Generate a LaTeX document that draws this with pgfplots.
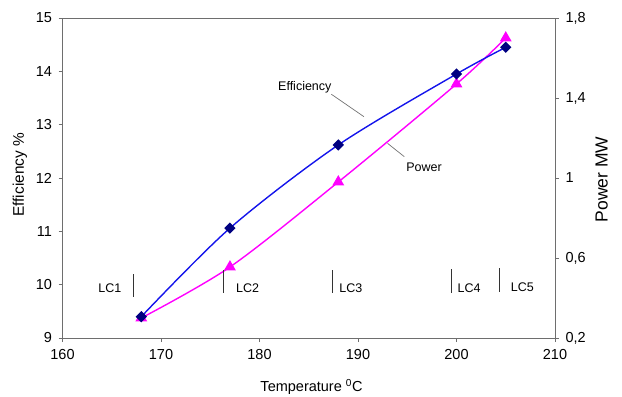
\documentclass[border=0pt]{standalone}
\usepackage{fontspec}
\setmainfont{Liberation Sans}
\usepackage{pgfplots}
\pgfplotsset{compat=1.18}
\definecolor{effline}{RGB}{20,20,235}
\definecolor{effmark}{RGB}{0,0,128}
\definecolor{powline}{RGB}{255,0,255}
\definecolor{spine}{RGB}{110,110,110}
\begin{document}
\begin{tikzpicture}
\pgfplotsset{
  every axis/.append style={
    scale only axis, width=492.5pt, height=320pt,
    xmin=160, xmax=210,
    font=\fontsize{14.5}{17}\selectfont,
    /pgf/number format/assume math mode=true,
    tick align=outside, major tick length=4pt,
    axis line style={draw=spine, line width=0.8pt},
    tick style={draw=spine, line width=0.8pt},
    clip=false,
  }
}
% Power (right axis)
\begin{axis}[
  ymin=0.2, ymax=1.8,
  axis y line*=right, axis x line=none,
  ytick={0.2,0.6,1,1.4,1.8},
  /pgf/number format/use comma,
  yticklabel style={xshift=3pt},
  ylabel={Power MW},
  ylabel style={at={(axis description cs:1.0948,0.495)}, anchor=center, rotate=0, font=\fontsize{17.5}{20}\selectfont},
]
\addplot[powline, line width=1.4pt, smooth, mark=triangle*, mark size=5.5pt,
  mark options={fill=powline, draw=powline, solid}]
  coordinates {(168,0.30) (177,0.555) (188,0.98) (200,1.47) (205,1.70)};
\end{axis}
% Efficiency (left axis)
\begin{axis}[
  name=ax,
  ymin=9, ymax=15,
  ytick={9,10,...,15},
  xtick={160,170,...,210},
  xtick pos=bottom, ytick pos=left,
  yticklabel style={xshift=-3pt},
  xticklabel style={yshift=-4pt},
  xlabel={Temperature \textsuperscript{0}C},
  xlabel style={at={(axis description cs:0.5056,-0.152)}, anchor=center},
  ylabel={Efficiency \%},
  ylabel style={at={(axis description cs:-0.0863,0.51)}, anchor=center, font=\fontsize{15.4}{18}\selectfont},
]
\addplot[effline, line width=1.4pt, smooth, mark=square*, mark size=3.3pt,
  mark options={fill=effmark, draw=effmark, solid, rotate=45}]
  coordinates {(168,9.40) (177,11.06) (188,12.62) (200,13.95) (205,14.45)};
% annotations
\begin{scope}[font=\fontsize{12.5}{15}\selectfont]
\node at (axis cs:184.6,13.70) {Efficiency};
\draw[black!55, line width=0.7pt] (axis cs:187.3,13.57) -- (axis cs:190.6,13.15);
\node at (axis cs:196.7,12.21) {Power};
\draw[black!55, line width=0.7pt] (axis cs:193.0,12.65) -- (axis cs:194.7,12.40);
\draw[black!80, line width=0.7pt] (axis cs:167.2,10.2) -- (axis cs:167.2,9.77);
\node at (axis cs:164.8,9.94) {LC1};
\draw[black!80, line width=0.7pt] (axis cs:176.3,10.27) -- (axis cs:176.3,9.84);
\node[anchor=west, inner sep=0pt] at (axis cs:177.6,9.94) {LC2};
\draw[black!80, line width=0.7pt] (axis cs:187.4,10.27) -- (axis cs:187.4,9.84);
\node[anchor=west, inner sep=0pt] at (axis cs:188.1,9.94) {LC3};
\draw[black!80, line width=0.7pt] (axis cs:199.5,10.29) -- (axis cs:199.5,9.84);
\node[anchor=west, inner sep=0pt] at (axis cs:200.1,9.94) {LC4};
\draw[black!80, line width=0.7pt] (axis cs:204.3,10.31) -- (axis cs:204.3,9.86);
\node[anchor=west, inner sep=0pt] at (axis cs:205.5,9.96) {LC5};
\end{scope}
\end{axis}
\pgfresetboundingbox
\path[use as bounding box] ([xshift=-62.5pt,yshift=-58pt]ax.south west) rectangle ([xshift=67pt,yshift=18pt]ax.north east);
\end{tikzpicture}
\end{document}
